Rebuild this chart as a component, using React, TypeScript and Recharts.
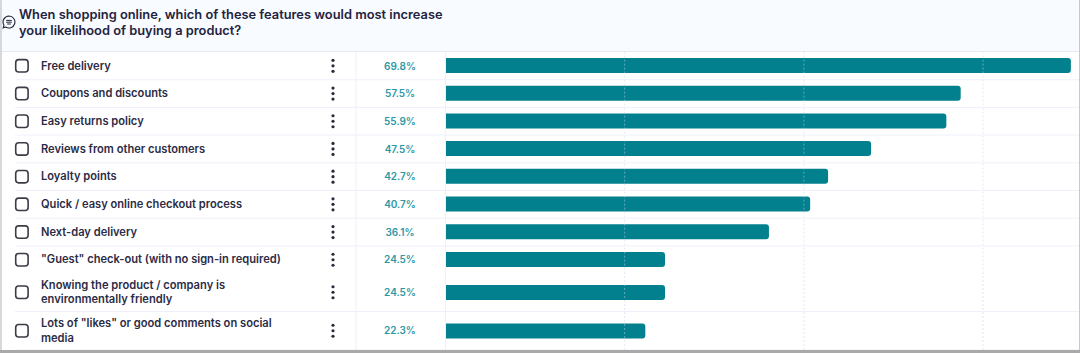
import { Bar, BarChart, ReferenceLine, XAxis, YAxis } from "recharts";

const categories = [
    "Free delivery",
    "Coupons and discounts",
    "Easy returns policy",
    "Reviews from other customers",
    "Loyalty points",
    "Quick / easy online checkout process",
    "Next-day delivery",
    '"Guest" check-out (with no sign-in required)',
    "Knowing the product / company is environmentally friendly",
    'Lots of "likes" or good comments on social media',
];
const shares = [69.8, 57.5, 55.9, 47.5, 42.7, 40.7, 36.1, 24.5, 24.5, 22.3];
const gridTicks = [0, 20, 40, 60];

const rows = categories.map((label, i) => ({ label, share: shares[i] }));

const TEAL = "#02808e";
const INK = "#2b2b45";
const SINGLE_ROW = 27.7;
const DOUBLE_ROW = 38.5;
const FONT = "Inter, sans-serif";

// wraps a label the way the table cell does
const wrap = (text: string, max = 44) => {
    const lines: string[] = [""];
    text.split(" ").forEach((word) => {
        const last = lines[lines.length - 1];
        if (last && (last + " " + word).length > max) lines.push(word);
        else lines[lines.length - 1] = last ? last + " " + word : word;
    });
    return lines;
};

const RowTick = ({ y, payload, rowHeight }: any) => {
    const row = rows.find((r) => r.label === payload.value);
    const lines = wrap(payload.value);
    const firstY = 3.7 - ((lines.length - 1) * 14.5) / 2;
    return (
        <g transform={`translate(0,${y})`}>
            <line x1={15} x2={1080} y1={rowHeight / 2} y2={rowHeight / 2} stroke="#eef1f9" />
            <line x1={356} x2={356} y1={-rowHeight / 2} y2={rowHeight / 2} stroke="#eef1f9" />
            <rect x={15.7} y={-6.2} width={12.4} height={12.4} rx={3} fill="#fff" stroke="#3c3c46" strokeWidth={1.6} />
            {lines.map((line, i) => (
                <text key={line} x={41} y={firstY + i * 14.5} fontFamily={FONT} fontSize={11.15} fontWeight={600} fill={INK}>
                    {line}
                </text>
            ))}
            {[-5.5, 0, 5.5].map((dy) => (
                <circle key={dy} cx={333} cy={dy} r={1.6} fill="#2a2a3a" />
            ))}
            <text x={400} y={3.7} textAnchor="middle" fontFamily={FONT} fontSize={10} fontWeight={600} fill="#2b98a4">
                {row?.share.toFixed(1)}%
            </text>
        </g>
    );
};

const RowChart = ({ data, rowHeight, top }: { data: typeof rows; rowHeight: number; top: number }) => (
    <div style={{ position: "absolute", left: 0, top }}>
        <BarChart
            width={1080}
            height={data.length * rowHeight}
            data={data}
            layout="vertical"
            margin={{ top: 0, right: 7.3, bottom: 0, left: 0 }}
        >
            <XAxis type="number" domain={[0, 70]} hide />
            <YAxis
                type="category"
                dataKey="label"
                width={445.5}
                interval={0}
                axisLine={false}
                tickLine={false}
                tick={<RowTick rowHeight={rowHeight} />}
            />
            <Bar dataKey="share" fill={TEAL} barSize={15} radius={[0, 3, 3, 0]} isAnimationActive={false} />
            {gridTicks.map((t) => (
                <ReferenceLine
                    key={t}
                    x={t}
                    stroke={t === 0 ? "#eef1f9" : "#c9d2ea"}
                    strokeOpacity={t === 0 ? 1 : 0.5}
                    strokeDasharray={t === 0 ? undefined : "2 2"}
                />
            ))}
        </BarChart>
    </div>
);

export default function App() {
    return (
        <div style={{ position: "fixed", left: 0, top: 0, width: 1080, height: 353, background: "#fff", overflow: "hidden" }}>
            <div style={{ position: "absolute", left: 0, top: 0, width: 1080, height: 51, background: "#f8fbff", borderBottom: "1px solid #e6e9f2" }} />
            <svg style={{ position: "absolute", left: 2, top: 15 }} width={14} height={14} viewBox="0 0 14 14">
                <path d="M7 1 a6 6 0 1 1 -3.4 11 L1.2 12.8 L2 10.2 A6 6 0 0 1 7 1 Z" fill="none" stroke="#22223a" strokeWidth={1.1} />
                <path d="M4.2 5.4 H9.8 M4.2 7.2 H9.8 M5.2 9 H8.8" stroke="#22223a" strokeWidth={1} />
            </svg>
            <div style={{ position: "absolute", left: 19, top: 6.5, width: 440, fontFamily: FONT, fontSize: 12.85, fontWeight: 600, lineHeight: "16px", color: "#232340", whiteSpace: "nowrap" }}>
                When shopping online, which of these features would most increase
                <br />
                your likelihood of buying a product?
            </div>
            <RowChart data={rows.slice(0, 8)} rowHeight={SINGLE_ROW} top={51.5} />
            <RowChart data={rows.slice(8)} rowHeight={DOUBLE_ROW} top={273.1} />
            <div style={{ position: "absolute", left: 0, top: 350, width: 1080, height: 3, background: "#a9a9a9" }} />
            <div style={{ position: "absolute", left: 0, top: 0, width: 2, height: 350, background: "#d8d8dc" }} />
            <div style={{ position: "absolute", left: 1079, top: 0, width: 1, height: 350, background: "#c8c8cc" }} />
        </div>
    );
}
